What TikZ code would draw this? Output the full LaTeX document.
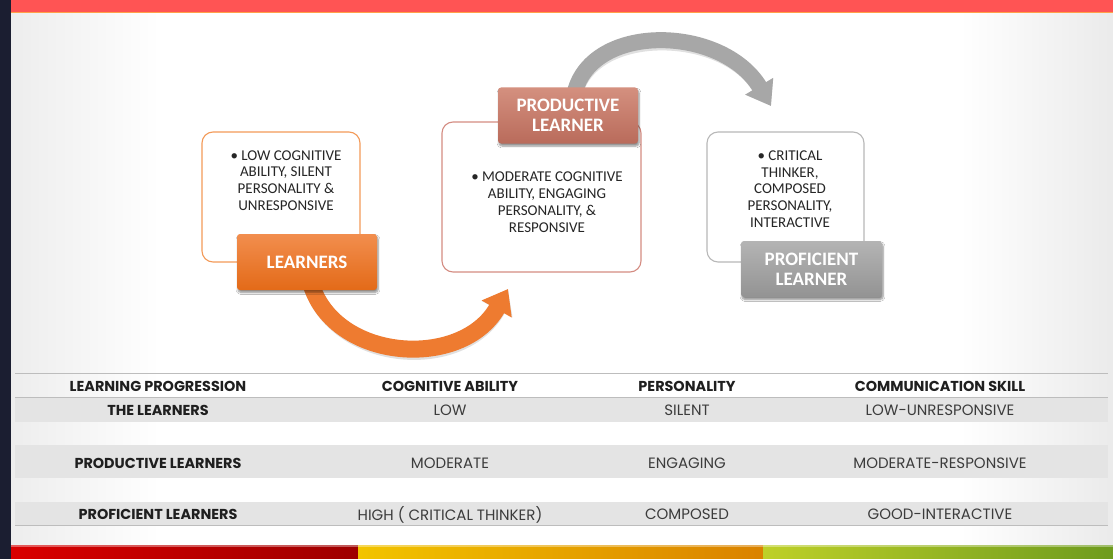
\documentclass[tikz,border=0pt]{standalone}
\usepackage{fontspec}
\setmainfont{Carlito}
\newfontfamily\tabfont{Poppins}
\usetikzlibrary{arrows.meta,shadows.blur}
\definecolor{navy}{HTML}{1B1E31}
\definecolor{topred}{HTML}{FF5454}
\definecolor{toporange}{HTML}{FFA24A}
\definecolor{orA}{HTML}{F28E4E}
\definecolor{orB}{HTML}{E36A18}
\definecolor{orArrow}{HTML}{EE7B30}
\definecolor{prA}{HTML}{D4907F}
\definecolor{prB}{HTML}{B96B5B}
\definecolor{grA}{HTML}{B4B4B4}
\definecolor{grB}{HTML}{939393}
\definecolor{grArrow}{HTML}{A7A7A7}
\definecolor{boxOr}{HTML}{F39A58}
\definecolor{boxPr}{HTML}{D48C82}
\definecolor{boxGr}{HTML}{B8B8B8}
\definecolor{txt}{HTML}{262626}
\definecolor{rowgray}{HTML}{E4E4E4}
\definecolor{tline}{HTML}{BDBDBD}
\definecolor{valtxt}{HTML}{3C3C3C}
\tikzset{
  box/.style={draw, line width=1.1pt, rounded corners=11pt, fill=white, minimum width=#1},
  boxtext/.style={align=center, text=txt, font=\fontsize{15}{16.8}\selectfont, inner sep=0pt},
  tab/.style={rounded corners=3pt, minimum width=140pt, minimum height=56pt, text=white, align=center,
     font=\fontsize{19}{20}\selectfont\bfseries,
     blur shadow={shadow xshift=1pt, shadow yshift=-2.5pt, shadow blur steps=6, shadow opacity=45}},
  fatarrow/.style={line width=17pt},
  arrowshadow/.style={line width=17pt, draw=black, opacity=0.12, shift={(1.5pt,-3pt)}},
  hdr/.style={font=\tabfont\bfseries\fontsize{14.4}{15}\selectfont, text=black!88, inner sep=0pt},
  val/.style={font=\tabfont\fontsize{15}{15}\selectfont, text=valtxt, inner sep=0pt},
  rowhdr/.style={font=\tabfont\bfseries\fontsize{14.4}{15}\selectfont, text=black!88, inner sep=0pt},
}
\begin{document}
\begin{tikzpicture}[x=1pt,y=-1pt]
\useasboundingbox (0,0) rectangle (1113,559);
% background
\fill[white] (0,0) rectangle (1113,559);
\shade[left color=black!7, right color=white] (11,13) rectangle (160,545);
\shade[left color=white, right color=black!8] (960,13) rectangle (1113,545);
\fill[navy] (0,0) rectangle (11,559);
\fill[topred] (11,0) rectangle (1113,12);
\fill[toporange] (11,12) rectangle (1113,13.2);
% bottom bar
\shade[left color=red!85!black, right color=red!62!black] (11,545) rectangle (358,559);
\shade[left color={rgb,255:red,242;green,196;blue,0}, right color={rgb,255:red,218;green,130;blue,0}] (358,545) rectangle (763,559);
\shade[left color={rgb,255:red,190;green,208;blue,40}, right color={rgb,255:red,110;green,155;blue,30}] (763,545) rectangle (1113,559);
\fill[white, opacity=0.35] (11,545) rectangle (1113,546.5);

% table
\fill[rowgray] (15,398) rectangle (1108,422);
\fill[rowgray] (15,445) rectangle (1108,478);
\fill[rowgray] (15,502) rectangle (1108,525);
\draw[tline, line width=1.2pt] (15,373.5) -- (1108,373.5);
\draw[tline, line width=1.2pt] (15,397.5) -- (1108,397.5);
\draw[tline, line width=1.2pt] (15,525.5) -- (1108,525.5);

\node[hdr] (h1) at (158,386.5) {LEARNING PROGRESSION};
\node[hdr] (h2) at (450,386.5) {COGNITIVE ABILITY};
\node[hdr] (h3) at (687,386.5) {PERSONALITY};
\node[hdr] (h4) at (940,386.5) {COMMUNICATION SKILL};

\node[rowhdr] (r1) at (158,410.5) {THE LEARNERS};
\node[val] (r1a) at (450,410.5) {LOW};
\node[val] (r1b) at (687,410.5) {SILENT};
\node[val] (r1c) at (940,410.5) {LOW-UNRESPONSIVE};

\node[rowhdr] (r2) at (158,463.5) {PRODUCTIVE LEARNERS};
\node[val] (r2a) at (450,463.5) {MODERATE};
\node[val] (r2b) at (687,463.5) {ENGAGING};
\node[val] (r2c) at (940,463.5) {MODERATE-RESPONSIVE};

\node[rowhdr] (r3) at (158,514.5) {PROFICIENT LEARNERS};
\node[val] (r3a) at (450,514.5) {HIGH ( CRITICAL THINKER)};
\node[val] (r3b) at (687,514.5) {COMPOSED};
\node[val] (r3c) at (940,514.5) {GOOD-INTERACTIVE};

% arrows (drawn under the tabs)
\coordinate (a1s) at (311,284);
\coordinate (a1e) at (508,289);
\coordinate (a2s) at (574,96);
\coordinate (a2e) at (771,106);
\draw[arrowshadow, -{Triangle[length=23pt,width=33pt]}] (a1s) .. controls (335,362) and (462,370) .. (a1e);
\draw[fatarrow, orArrow, -{Triangle[length=23pt,width=33pt]}] (a1s) .. controls (335,362) and (462,370) .. (a1e);
\draw[arrowshadow, line width=16pt, -{Triangle[length=23pt,width=31pt]}] (a2s) .. controls (588,22) and (722,24) .. (a2e);
\draw[fatarrow, line width=16pt, grArrow, -{Triangle[length=23pt,width=31pt]}] (a2s) .. controls (588,22) and (722,24) .. (a2e);

% boxes
\node[box=158pt, draw=boxOr, minimum height=130pt] (b1) at (281,197) {};
\node[box=199pt, draw=boxPr, minimum height=150pt] (b2) at (541.5,197) {};
\node[box=157pt, draw=boxGr, minimum height=130pt] (b3) at (785.5,197) {};

\node[boxtext] (t1) at (286,180.5) {\textbullet\ LOW COGNITIVE\\ABILITY, SILENT\\PERSONALITY \&\\UNRESPONSIVE};
\node[boxtext] (t2) at (547,202) {\textbullet\ MODERATE COGNITIVE\\ABILITY, ENGAGING\\PERSONALITY, \&\\RESPONSIVE};
\node[boxtext] (t3) at (790,189) {\textbullet\ CRITICAL\\THINKER,\\COMPOSED\\PERSONALITY,\\INTERACTIVE};

% tabs
\node[tab, top color=orA, bottom color=orB] (tab1) at (307,262) {LEARNERS};
\node[tab, top color=prA, bottom color=prB] (tab2) at (568,115.5) {PRODUCTIVE\\LEARNER};
\node[tab, top color=grA, bottom color=grB, minimum width=141pt] (tab3) at (811.5,269) {PROFICIENT\\LEARNER};
\end{tikzpicture}
\end{document}
